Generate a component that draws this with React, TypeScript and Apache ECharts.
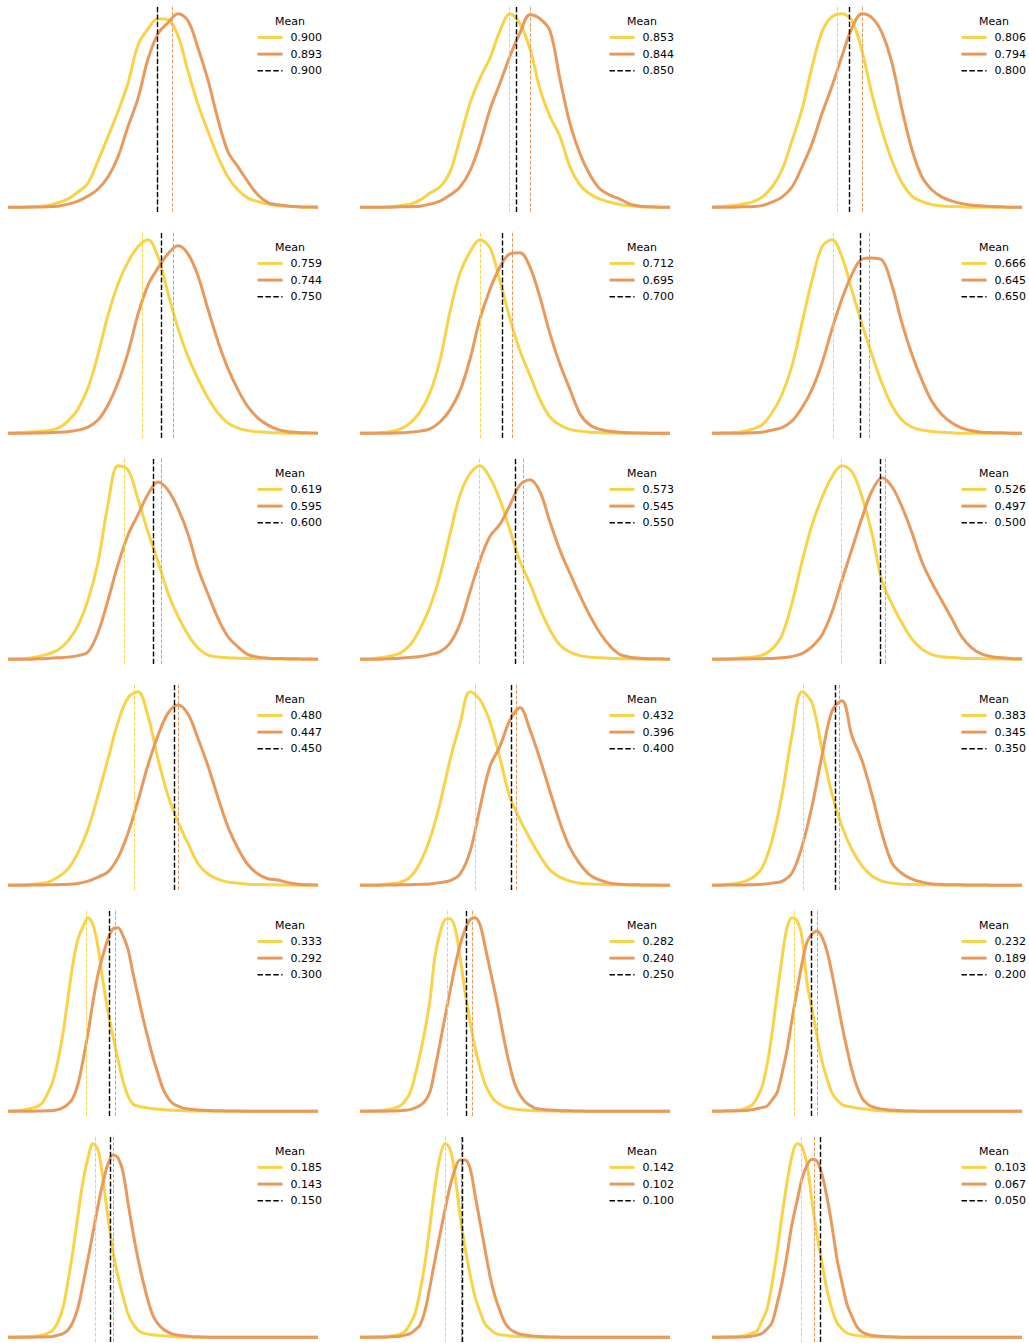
import { useEffect, useRef } from 'react';
import * as echarts from 'echarts';

const YELLOW = '#f8d348';
const ORANGE = '#e8995c';
const BLACK = '#000000';
const FONT = 'DejaVu Sans';

// legend values (means) per panel, row-major order
const yellowMeans = [0.900, 0.853, 0.806, 0.759, 0.712, 0.666, 0.619, 0.573, 0.526, 0.480, 0.432, 0.383, 0.333, 0.282, 0.232, 0.185, 0.142, 0.103];
const orangeMeans = [0.893, 0.844, 0.794, 0.744, 0.695, 0.645, 0.595, 0.545, 0.497, 0.447, 0.396, 0.345, 0.292, 0.240, 0.189, 0.143, 0.102, 0.067];
const trueValues = [0.900, 0.850, 0.800, 0.750, 0.700, 0.650, 0.600, 0.550, 0.500, 0.450, 0.400, 0.350, 0.300, 0.250, 0.200, 0.150, 0.100, 0.050];

// KDE grid extent per panel (x axis runs from larger value on the left to smaller on the right)
const gridStartValues = [0.9734, 0.9169, 0.8677, 0.8224, 0.7764, 0.7359, 0.6952, 0.6493, 0.6127, 0.5750, 0.5342, 0.4776, 0.4446, 0.4290, 0.3910, 0.3840, 0.3530, 0.3438];
const gridEndValues = [0.8214, 0.7840, 0.7152, 0.6757, 0.6102, 0.5566, 0.4924, 0.4516, 0.4051, 0.3419, 0.2594, 0.1557, 0.0030, -0.0938, -0.2063, -0.3238, -0.4124, -0.4940];

// density estimates evaluated on an evenly spaced grid between gridStart and gridEnd
const yellowDensity: number[][] = [
  [0, 0, 0.3, 0.7, 1.7, 4.5, 8, 15, 24, 46, 70, 95, 123, 161, 177, 187, 186, 170, 135, 102, 75, 50, 30, 17, 9, 5.5, 3, 1.5, 0.8, 0.3, 0, 0],
  [0, 0, 0, 0.3, 1.5, 3, 7, 14, 20, 35, 68, 103, 128, 148, 175, 192, 182, 157, 117, 90, 70, 40, 22, 13, 8, 5, 2.7, 1.3, 0.5, 0.2, 0, 0],
  [0, 0.7, 1.5, 3, 5, 10, 20, 37, 66, 97, 139, 174, 189, 192, 185, 155, 112, 76, 46, 24, 11, 5.5, 2.5, 1.2, 0.6, 0.3, 0, 0, 0, 0, 0, 0],
  [0, 0.3, 1, 1.7, 2.5, 5, 12, 24, 45, 78, 117, 148, 170, 185, 192, 175, 139, 104, 76, 54, 35, 20, 10, 5, 2.5, 1.3, 0.7, 0.3, 0, 0, 0, 0],
  [0, 0.2, 0.5, 1.5, 4, 10, 21, 40, 72, 120, 158, 179, 191, 183, 150, 113, 81, 57, 33, 16, 8, 3.8, 2, 1, 0.5, 0.2, 0, 0, 0, 0, 0, 0],
  [0, 0.3, 0.7, 1.5, 4, 8, 20, 38, 66, 108, 150, 183, 190, 173, 140, 107, 77, 49, 27, 13, 6, 3, 1.7, 0.8, 0.3, 0, 0, 0, 0, 0, 0, 0],
  [0, 0.3, 1, 2.5, 5, 9, 18, 33, 58, 95, 152, 190, 186, 157, 125, 96, 65, 42, 24, 11, 4, 2.2, 1.3, 1, 0.7, 0.5, 0.3, 0.2, 0, 0, 0, 0],
  [0, 0.3, 1.3, 3, 6, 14, 30, 52, 83, 124, 163, 184, 192, 180, 158, 128, 97, 75, 50, 29, 14, 7, 3.5, 2, 1.3, 0.8, 0.5, 0.3, 0.2, 0, 0, 0],
  [0, 0.3, 0.7, 1.3, 2, 4, 10, 24, 56, 97, 134, 161, 182, 193, 187, 162, 125, 78, 55, 36, 20, 10, 4.5, 2.5, 1.6, 1, 0.7, 0.5, 0.3, 0.2, 0, 0],
  [0, 0.3, 0.7, 1.5, 3, 8, 16, 32, 55, 88, 124, 160, 184, 190, 166, 124, 88, 62, 41, 21, 11, 6, 3, 2, 1, 0.7, 0.5, 0.3, 0.2, 0, 0, 0],
  [0, 0.2, 0.5, 1.3, 2.7, 8, 22, 46, 81, 124, 160, 192, 184, 162, 126, 87, 65, 46, 29, 15, 8, 4, 2, 1.2, 0.8, 0.5, 0.3, 0.2, 0, 0, 0, 0],
  [0, 0.5, 1.2, 3, 7, 17, 44, 89, 148, 191, 180, 134, 90, 58, 35, 19, 9, 4, 2, 1, 0.6, 0.4, 0.3, 0.2, 0.1, 0, 0, 0, 0, 0, 0, 0],
  [0, 0.2, 0.6, 1.2, 2, 3.2, 5, 9, 18, 30, 50, 77, 112, 146, 170, 182, 191, 184, 162, 128, 98, 74, 51, 30, 15, 7, 5, 3.8, 3, 2.4, 2, 1.6, 1.2, 0.9, 0.7, 0.5, 0.3, 0.25, 0.2, 0.15, 0.1,
    0, 0, 0, 0, 0, 0, 0, 0, 0, 0, 0, 0, 0, 0, 0, 0, 0, 0, 0, 0, 0, 0],
  [0, 0.1, 0.3, 0.5, 0.8, 1.2, 2, 3.3, 5, 10, 18, 35, 56, 80, 110, 153, 176, 189, 190, 181, 152, 118, 89, 63, 43, 27, 17, 10, 6.5, 4, 3, 2, 1.3, 1, 0.7, 0.5, 0.4, 0.3, 0.2, 0.1,
    0, 0, 0, 0, 0, 0, 0, 0, 0, 0, 0, 0, 0, 0, 0, 0, 0, 0, 0, 0, 0, 0, 0],
  [0, 0.1, 0.2, 0.4, 0.6, 1, 1.5, 3.5, 6, 13, 24, 45, 76, 114, 150, 180, 190, 187, 171, 126, 100, 74, 49, 32, 18, 11, 6.5, 4.8, 4, 3, 2.3, 1.8, 1.2, 0.7, 0.3, 0.1,
    0, 0, 0, 0, 0, 0, 0, 0, 0, 0, 0, 0, 0, 0, 0, 0, 0, 0, 0, 0, 0, 0, 0, 0, 0, 0, 0],
  [0, 0.1, 0.2, 0.4, 0.5, 0.8, 1.2, 2, 4, 7, 15, 29, 55, 85, 120, 153, 176, 190, 184, 155, 117, 84, 60, 40, 23, 13, 7, 4, 3, 2.2, 1.7, 1.3, 1, 0.6, 0.3, 0.2, 0.1,
    0, 0, 0, 0, 0, 0, 0, 0, 0, 0, 0, 0, 0, 0, 0, 0, 0, 0, 0, 0, 0, 0, 0, 0, 0, 0],
  [0, 0.1, 0.2, 0.3, 0.5, 0.7, 1, 1.8, 3, 5.5, 13, 23, 45, 73, 110, 148, 177, 190, 185, 159, 120, 88, 62, 40, 25, 13, 8, 4, 2.5, 1.8, 1.2, 0.8, 0.6, 0.4, 0.3, 0.1,
    0, 0, 0, 0, 0, 0, 0, 0, 0, 0, 0, 0, 0, 0, 0, 0, 0, 0, 0, 0, 0, 0, 0, 0, 0, 0, 0],
  [0, 0.1, 0.2, 0.3, 0.5, 0.7, 1.1, 2, 4, 6, 16, 27, 52, 82, 118, 150, 176, 188, 185, 168, 132, 99, 72, 46, 27, 14, 8, 4, 2.5, 1.5, 1, 0.6, 0.4, 0.3, 0.2, 0.1,
    0, 0, 0, 0, 0, 0, 0, 0, 0, 0, 0, 0, 0, 0, 0, 0, 0, 0, 0, 0, 0, 0, 0, 0, 0, 0, 0],
];

const orangeDensity: number[][] = [
  [0, 0, 0, 0.2, 0.5, 1, 3, 6, 11, 18, 30, 50, 80, 108, 147, 172, 183, 192, 185, 158, 126, 87, 55, 40, 25, 12, 4.5, 2.3, 1.2, 0.5, 0.2, 0],
  [0, 0, 0, 0, 0.3, 0.5, 1, 3, 6, 12, 20, 36, 63, 97, 123, 150, 173, 191, 187, 175, 127, 83, 53, 32, 18, 12, 8, 3, 1, 0.3, 0, 0],
  [0, 0, 0, 0.3, 0.5, 1.5, 5, 10, 20, 40, 63, 93, 120, 150, 178, 192, 188, 173, 143, 97, 57, 30, 17, 10, 6, 3.5, 2, 1.2, 0.6, 0.3, 0, 0],
  [0, 0, 0, 0.2, 0.4, 0.8, 1.5, 3, 6, 13, 28, 50, 80, 118, 147, 164, 178, 186, 178, 156, 123, 91, 64, 43, 26, 15, 8, 3.5, 1.5, 0.7, 0.3, 0],
  [0, 0, 0, 0, 0.3, 1, 2, 4.3, 11, 23, 42, 73, 113, 142, 164, 177, 178, 164, 134, 98, 68, 43, 19, 8, 3.7, 1.8, 0.8, 0.4, 0.2, 0, 0, 0],
  [0, 0, 0, 0, 0.3, 1, 3, 5.5, 12, 25, 43, 69, 102, 132, 156, 171, 172, 170, 145, 108, 77, 52, 31, 18, 10, 5, 2.3, 1, 0.5, 0.3, 0, 0],
  [0, 0, 0, 0.3, 0.7, 1.3, 2, 3.5, 7, 26, 58, 93, 122, 142, 162, 174, 166, 148, 123, 89, 64, 40, 22, 12, 4.5, 2, 1, 0.7, 0.5, 0.3, 0.2, 0],
  [0, 0, 0, 0.5, 1, 1.7, 2.7, 4.5, 7.5, 16, 35, 67, 98, 122, 134, 153, 173, 178, 166, 136, 108, 85, 63, 43, 26, 13, 4.5, 2, 1, 0.5, 0.3, 0],
  [0, 0, 0, 0.2, 0.3, 0.5, 0.7, 1.3, 2.7, 5.5, 12.5, 24, 47, 79, 110, 141, 168, 181, 172, 152, 126, 97, 76, 58, 40, 22, 11, 5, 2.5, 1.5, 0.7, 0.3],
  [0, 0, 0, 0.2, 0.3, 0.5, 0.8, 1.7, 4, 8, 13, 27, 51, 83, 118, 147, 169, 177, 168, 144, 117, 86, 57, 36, 20, 11, 6.3, 5, 2.5, 1, 0.4, 0.2],
  [0, 0, 0, 0.2, 0.3, 0.5, 0.8, 1.2, 2.5, 4.5, 11, 33, 77, 118, 138, 164, 176, 154, 125, 93, 62, 37, 21, 10, 5, 2, 1, 0.5, 0.3, 0.2, 0, 0],
  [0, 0, 0.1, 0.2, 0.4, 0.8, 2, 3.8, 12, 38, 78, 128, 172, 182, 147, 123, 89, 51, 22, 11.5, 6, 3, 1.2, 0.7, 0.4, 0.3, 0.2, 0.1, 0, 0, 0, 0],
  [0, 0, 0, 0, 0, 0, 0.1, 0.2, 0.4, 0.7, 1.5, 3.5, 7, 13, 27, 50, 77, 108, 135, 154, 170, 180, 181, 173, 160, 136, 114, 92, 72, 53, 37, 22, 13, 7.5, 5, 3, 2.2, 1.6, 1.2, 0.9, 0.7, 0.5, 0.4, 0.3, 0.2, 0.15, 0.1,
    0, 0, 0, 0, 0, 0, 0, 0, 0, 0, 0, 0, 0, 0, 0, 0],
  [0, 0, 0, 0, 0, 0, 0.1, 0.2, 0.5, 0.8, 1.5, 3.3, 5.5, 10, 19, 42, 67, 93, 118, 143, 164, 179, 189, 191, 184, 163, 140, 117, 92, 66, 44, 26, 16, 9.5, 5.5, 3, 2, 1.5, 1.1, 0.8, 0.6, 0.4, 0.3, 0.2, 0.1,
    0, 0, 0, 0, 0, 0, 0, 0, 0, 0, 0, 0, 0, 0, 0, 0, 0, 0],
  [0, 0, 0, 0.1, 0.2, 0.3, 0.5, 0.7, 1.5, 2.5, 3.5, 5, 11, 18, 37, 60, 90, 118, 145, 166, 174, 177, 171, 157, 135, 110, 84, 61, 40, 24, 13, 7.5, 4.5, 3, 2, 1.4, 1, 0.7, 0.4, 0.2, 0.1,
    0, 0, 0, 0, 0, 0, 0, 0, 0, 0, 0, 0, 0, 0, 0, 0, 0, 0, 0, 0, 0, 0],
  [0, 0, 0, 0, 0, 0, 0.1, 0.2, 0.4, 0.7, 2, 3.5, 7, 15, 29, 52, 77, 103, 129, 152, 170, 179, 176, 162, 132, 103, 77, 55, 36, 21, 13, 8, 5, 3, 2, 1.4, 1, 0.5, 0.3, 0.1,
    0, 0, 0, 0, 0, 0, 0, 0, 0, 0, 0, 0, 0, 0, 0, 0, 0, 0, 0, 0, 0, 0, 0],
  [0, 0, 0, 0, 0, 0, 0.3, 0.6, 1, 2, 3.5, 7, 12, 26, 50, 76, 101, 125, 148, 165, 174, 174, 166, 140, 113, 86, 60, 40, 26, 14, 8, 5, 3, 2.2, 1.5, 1, 0.6, 0.3, 0.2, 0.1,
    0, 0, 0, 0, 0, 0, 0, 0, 0, 0, 0, 0, 0, 0, 0, 0, 0, 0, 0, 0, 0, 0, 0],
  [0, 0, 0, 0, 0, 0, 0.2, 0.3, 1, 2, 3.5, 8, 14, 32, 53, 80, 110, 132, 154, 167, 173, 171, 158, 136, 108, 76, 53, 32, 20, 10, 5, 3, 1.7, 1.2, 0.8, 0.5, 0.3, 0.1,
    0, 0, 0, 0, 0, 0, 0, 0, 0, 0, 0, 0, 0, 0, 0, 0, 0, 0, 0, 0, 0, 0, 0, 0, 0],
];

const COLS = 3;
const PANEL_W = 310;
const PANEL_H = 207;
const COL_STEP = 352;
const ROW_STEP = 226;

function pairs(values: number[], start: number, end: number) {
  const n = values.length;
  return values.map((v, i) => [start + ((end - start) * i) / (n - 1), v]);
}

function meanLine(value: number, color: string, width: number, dash: number[], z: number) {
  return {
    silent: true,
    symbol: ['none', 'none'],
    precision: 6,
    label: { show: false },
    emphasis: { disabled: true },
    lineStyle: { color, width, type: dash, opacity: 1 },
    data: [{ xAxis: value }],
    z,
  };
}

function buildOption() {
  const grid: any[] = [];
  const xAxis: any[] = [];
  const yAxis: any[] = [];
  const series: any[] = [];
  const legend: any[] = [];
  const graphic: any[] = [];
  const labels: Record<string, string> = {};

  for (let k = 0; k < yellowDensity.length; k++) {
    const r = Math.floor(k / COLS);
    const c = k % COLS;
    const left = 8 + COL_STEP * c;
    const top = 5 + ROW_STEP * r;
    grid.push({ left, top, width: PANEL_W, height: PANEL_H });
    const yd = yellowDensity[k];
    const od = orangeDensity[k];
    const peak = Math.max(...yd, ...od);
    xAxis.push({
      type: 'value', gridIndex: k, show: false, inverse: true,
      min: gridEndValues[k], max: gridStartValues[k],
    });
    yAxis.push({ type: 'value', gridIndex: k, show: false, min: -0.025 * peak, max: 1.045 * peak });

    const yName = `yellow-${k}`;
    const oName = `orange-${k}`;
    const tName = `true-${k}`;
    labels[yName] = yellowMeans[k].toFixed(3);
    labels[oName] = orangeMeans[k].toFixed(3);
    labels[tName] = trueValues[k].toFixed(3);

    series.push({
      type: 'line', name: yName, xAxisIndex: k, yAxisIndex: k,
      data: pairs(yd, gridStartValues[k], gridEndValues[k]),
      symbol: 'none', smooth: 0.35, color: YELLOW, silent: true, z: 2,
      lineStyle: { color: YELLOW, width: 3 },
      emphasis: { disabled: true },
      markLine: meanLine(yellowMeans[k], YELLOW, 1, [3.7, 1.6], 5),
    });
    series.push({
      type: 'line', name: oName, xAxisIndex: k, yAxisIndex: k,
      data: pairs(od, gridStartValues[k], gridEndValues[k]),
      symbol: 'none', smooth: 0.35, color: ORANGE, silent: true, z: 3,
      lineStyle: { color: ORANGE, width: 3 },
      emphasis: { disabled: true },
      markLine: meanLine(orangeMeans[k], ORANGE, 1, [3.7, 1.6], 5),
    });
    series.push({
      type: 'line', name: tName, xAxisIndex: k, yAxisIndex: k,
      data: [], symbol: 'none', color: BLACK, silent: true, z: 4,
      lineStyle: { color: BLACK, width: 1.5, type: [5.5, 2.4] },
      markLine: meanLine(trueValues[k], BLACK, 1.4, [5.2, 2.2], 6),
    });

    legend.push({
      orient: 'vertical',
      left: left + 248,
      top: top + 26.4,
      padding: 0,
      itemWidth: 25,
      itemHeight: 12,
      itemGap: 4.7,
      selectedMode: false,
      formatter: (name: string) => labels[name],
      textStyle: { fontSize: 11, lineHeight: 12, fontFamily: FONT, color: '#000', padding: [0, 0, 0, 3] },
      data: [
        { name: yName, itemStyle: { opacity: 0 }, lineStyle: { color: YELLOW, width: 3, type: 'solid' } },
        { name: oName, itemStyle: { opacity: 0 }, lineStyle: { color: ORANGE, width: 3, type: 'solid' } },
        { name: tName, itemStyle: { opacity: 0 }, lineStyle: { color: BLACK, width: 1.5, type: [5.5, 2.4] } },
      ],
    });

    graphic.push({
      type: 'text',
      x: left + 282,
      y: top + 16.3,
      silent: true,
      style: {
        text: 'Mean', fill: '#000', fontSize: 11, fontFamily: FONT,
        textAlign: 'center', textVerticalAlign: 'middle', align: 'center', verticalAlign: 'middle',
      },
    });
  }

  return {
    animation: false,
    backgroundColor: '#ffffff',
    grid, xAxis, yAxis, series, legend, graphic,
  };
}

export default function App() {
  const ref = useRef<HTMLDivElement>(null);
  useEffect(() => {
    if (!ref.current) return;
    const chart = echarts.init(ref.current, null, { renderer: 'svg' });
    chart.setOption(buildOption() as any);
    return () => chart.dispose();
  }, []);
  return (
    <div
      ref={ref}
      style={{ position: 'absolute', left: 0, top: 0, width: 1029, height: 1343, background: '#fff' }}
    />
  );
}
